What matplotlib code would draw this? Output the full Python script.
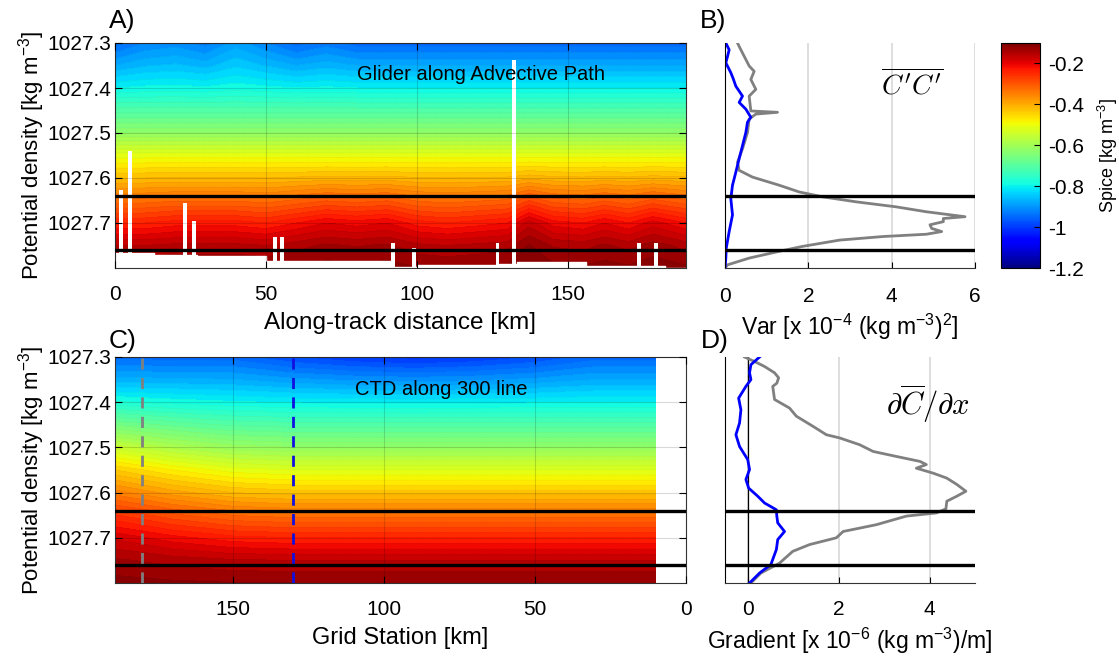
import numpy as np
import matplotlib
matplotlib.use("Agg")
import matplotlib.pyplot as plt
from matplotlib import cm, colors

plt.rcParams['font.family'] = ['Liberation Sans', 'DejaVu Sans']
plt.rcParams['mathtext.fontset'] = 'custom'
plt.rcParams['mathtext.rm'] = 'Liberation Sans'
plt.rcParams['mathtext.it'] = 'Liberation Sans:italic'

# ---- data ----
rho_levels = [1027.30, 1027.35, 1027.40, 1027.45, 1027.50, 1027.55,
              1027.60, 1027.65, 1027.70, 1027.75, 1027.80]
glider_profile = [-0.95, -0.88, -0.80, -0.71, -0.62, -0.51, -0.42, -0.33, -0.24, -0.16, -0.12]
ctd_profile = [-0.95, -0.88, -0.80, -0.71, -0.62, -0.52, -0.43, -0.33, -0.24, -0.16, -0.12]

# along-track anomalies (glider)
glider_x = [0, 10, 20, 30, 40, 50, 60, 70, 80, 90, 100, 110, 120, 130, 137, 145, 155, 162, 170, 178, 189]
glider_deep = [0, 0, 0.01, 0.01, 0.01, 0, 0.02, 0.04, 0.03, 0.04, 0.01, 0, 0.01, 0.02, 0.07, 0.03, 0.02, 0.04, 0.02, 0.05, 0.02]
glider_top = [0, 0.03, 0.04, 0.02, 0.06, 0.03, 0, 0.02, 0, 0, 0, 0, 0, 0, 0, 0, 0, 0, 0, 0, 0]
deep_weight = [0, 0, 0, 0, 0, 0, 0.2, 0.7, 1.0, 0.6, 0.2]
top_weight = [1.0, 0.6, 0.2, 0, 0, 0, 0, 0, 0, 0, 0]

# data gaps in glider section: position [km], top of gap [density]
gap_x = [2.0, 5.0, 23.3, 26.0, 53.0, 55.3, 92.0, 99.0, 126.6, 132.0, 173.5, 179.0]
gap_top = [1027.626, 1027.54, 1027.655, 1027.696, 1027.73, 1027.73,
           1027.744, 1027.755, 1027.745, 1027.337, 1027.745, 1027.745]
bottom_x = [0, 13, 27, 50, 92, 100, 127, 133, 156, 182, 189]
bottom_rho = [1027.767, 1027.77, 1027.774, 1027.785, 1027.797, 1027.793,
              1027.79, 1027.787, 1027.795, 1027.80, 1027.80]

# CTD section
ctd_x = [10, 30, 50, 70, 90, 110, 130, 150, 170, 189]
ctd_mid = [0, 0, 0, 0, 0, 0, 0, 0.01, 0.04, 0.08]
ctd_top = [0, 0, -0.03, -0.05, -0.06, -0.05, -0.03, 0, 0, 0]
mid_weight = [0, 0.1, 0.3, 0.6, 0.9, 1.0, 1.0, 0.9, 0.7, 0.3, 0.1]
ctd_top_weight = [1.0, 0.5, 0.1, 0, 0, 0, 0, 0, 0, 0, 0]
ctd_marks = [180, 130]

layer_bounds = [1027.64, 1027.76]

# B) variance profiles
var_rho_grey = [1027.300, 1027.315, 1027.351, 1027.363, 1027.381, 1027.403, 1027.418, 1027.451,
                1027.454, 1027.458, 1027.469, 1027.499, 1027.535, 1027.565, 1027.583, 1027.598,
                1027.616, 1027.631, 1027.642, 1027.653, 1027.664, 1027.675, 1027.686, 1027.690,
                1027.697, 1027.704, 1027.712, 1027.719, 1027.725, 1027.730, 1027.738, 1027.752,
                1027.763, 1027.778, 1027.793, 1027.800]
var_grey = [0.30, 0.38, 0.58, 0.70, 0.62, 0.74, 0.58, 0.62, 1.26, 0.74, 0.58, 0.54, 0.42, 0.30,
            0.34, 0.66, 1.30, 1.78, 2.35, 3.15, 4.10, 4.83, 5.76, 5.24, 5.24, 4.92, 4.96, 5.20,
            4.83, 3.80, 2.75, 1.86, 1.30, 0.58, 0.06, 0.00]
var_rho_blue = [1027.300, 1027.315, 1027.330, 1027.344, 1027.366, 1027.380, 1027.396, 1027.418,
                1027.432, 1027.447, 1027.465, 1027.476, 1027.499, 1027.528, 1027.557, 1027.587,
                1027.616, 1027.646, 1027.682, 1027.719, 1027.756, 1027.778, 1027.800]
var_blue = [0.02, 0.10, 0.06, 0.02, 0.14, 0.20, 0.26, 0.42, 0.34, 0.50, 0.62, 0.54, 0.50, 0.42,
            0.34, 0.26, 0.18, 0.14, 0.18, 0.10, 0.03, 0.02, 0.00]

# D) gradient profiles
grad_rho_grey = [1027.300, 1027.310, 1027.321, 1027.335, 1027.346, 1027.358, 1027.365, 1027.394,
                 1027.413, 1027.431, 1027.453, 1027.472, 1027.479, 1027.494, 1027.509, 1027.520,
                 1027.531, 1027.538, 1027.546, 1027.557, 1027.568, 1027.582, 1027.597, 1027.608,
                 1027.619, 1027.636, 1027.645, 1027.652, 1027.671, 1027.686, 1027.700, 1027.715,
                 1027.730, 1027.756, 1027.778, 1027.800]
grad_grey = [-0.07, 0.15, 0.37, 0.59, 0.68, 0.64, 0.55, 0.59, 0.92, 1.07, 1.43, 1.73, 2.02, 2.46,
             2.76, 3.27, 3.79, 3.93, 3.71, 4.08, 4.38, 4.60, 4.80, 4.60, 4.38, 4.36, 4.15, 3.49,
             2.83, 2.10, 1.95, 1.36, 0.99, 0.70, 0.29, 0.07]
grad_rho_blue = [1027.300, 1027.317, 1027.335, 1027.350, 1027.365, 1027.391, 1027.417, 1027.446,
                 1027.472, 1027.498, 1027.527, 1027.549, 1027.571, 1027.590, 1027.608, 1027.623,
                 1027.638, 1027.652, 1027.667, 1027.686, 1027.704, 1027.726, 1027.759, 1027.778,
                 1027.800]
grad_blue = [0.26, 0.07, 0.04, 0.07, -0.04, -0.20, -0.15, -0.18, -0.26, -0.18, 0.00, 0.04, -0.04,
             0.02, 0.22, 0.37, 0.63, 0.64, 0.66, 0.81, 0.66, 0.63, 0.51, 0.26, 0.04]

# ---- figure ----
W, H = 1119, 659
fig = plt.figure(figsize=(W / 100, H / 100), dpi=100)


def px_axes(l, t, r, b):
    return fig.add_axes([l / W, 1 - b / H, (r - l) / W, (b - t) / H])


axA = px_axes(115, 43, 686, 268)
axB = px_axes(725, 43, 975, 268)
axC = px_axes(115, 357, 686, 583)
axD = px_axes(725, 357, 975, 583)
cax = px_axes(1001, 43, 1040, 268)

cmap = cm.jet
norm = colors.Normalize(-1.2, -0.1)
levels = np.arange(-1.2, -0.09, 0.02)
FS = 15      # tick labels
LFS = 17     # x labels
rho_ticks = [1027.3, 1027.4, 1027.5, 1027.6, 1027.7]

# A) glider section
rho = np.array(rho_levels)
ZA = (np.add.outer(glider_profile, np.zeros(len(glider_x)))
      + np.outer(deep_weight, glider_deep) + np.outer(top_weight, glider_top))
axA.contourf(glider_x, rho, ZA, levels=levels, cmap=cmap, norm=norm, extend='both')
axA.contour(glider_x, rho, ZA, levels=levels, colors='k', linewidths=0.3, alpha=0.12)
axA.bar(gap_x, 1027.81 - np.array(gap_top), bottom=gap_top, width=1.3,
        color='white', zorder=2)
axA.fill_between(bottom_x, bottom_rho, 1027.81, step='post', color='white', zorder=2)
axA.text(121, 1027.37, 'Glider along Advective Path', ha='center', va='center', fontsize=14.5)
axA.set_xlim(0, 189)
axA.set_xlabel('Along-track distance [km]', fontsize=LFS + 0.5, labelpad=6)
axA.set_xticks([0, 50, 100, 150])

# C) CTD section
ZC = (np.add.outer(ctd_profile, np.zeros(len(ctd_x)))
      + np.outer(mid_weight, ctd_mid) + np.outer(ctd_top_weight, ctd_top))
axC.contourf(ctd_x, rho, ZC, levels=levels, cmap=cmap, norm=norm, extend='both')
axC.contour(ctd_x, rho, ZC, levels=levels, colors='k', linewidths=0.3, alpha=0.08)
axC.axvline(ctd_marks[0], color='grey', ls=(0, (4, 3)), lw=2, zorder=3)
axC.axvline(ctd_marks[1], color='#1010e0', ls=(0, (4, 3)), lw=2, zorder=3)
axC.text(81, 1027.372, 'CTD along 300 line', ha='center', va='center', fontsize=14.5)
axC.set_xlim(189, 0)
axC.set_xticks([150, 100, 50, 0])
axC.set_xlabel('Grid Station [km]', fontsize=LFS, labelpad=6)

for ax in (axA, axC):
    ax.set_ylim(1027.8, 1027.3)
    ax.set_yticks(rho_ticks)
    ax.set_yticklabels([f'{t:.1f}' for t in rho_ticks])
    ax.set_ylabel('Potential density [kg m$^{-3}$]', fontsize=16, labelpad=0)
    ax.tick_params(direction='in', top=True, right=True, labelsize=FS, length=5)
    ax.tick_params(axis='x', pad=12)
    ax.tick_params(axis='y', pad=3)
    ax.grid(True, color='k', alpha=0.15, lw=0.8)
    ax.set_axisbelow(False)
    for y in layer_bounds:
        ax.axhline(y, color='k', lw=2.4, zorder=4)
    for s in ax.spines.values():
        s.set_color('#333333')

# B) variance
axB.plot(var_grey, var_rho_grey, color='grey', lw=2)
axB.plot(var_blue, var_rho_blue, color='#0000ff', lw=2)
axB.set_xlim(0, 6)
axB.set_xticks([0, 2, 4, 6])
axB.set_xlabel('Var [x 10$^{-4}$ (kg m$^{-3}$)$^2$]', fontsize=LFS - 0.5, labelpad=4)
axB.text(4.5, 1027.393, r"$\overline{C'C'}$", math_fontfamily='cm', fontsize=20,
         ha='center', va='center')

# D) gradient
axD.plot(grad_grey, grad_rho_grey, color='grey', lw=2)
axD.plot(grad_blue, grad_rho_blue, color='#0000ff', lw=2)
axD.axvline(0, color='k', lw=0.9, zorder=1)
axD.set_xlim(-0.5, 5)
axD.set_xticks([0, 2, 4])
axD.set_xlabel('Gradient [x 10$^{-6}$ (kg m$^{-3}$)/m]', fontsize=LFS - 0.5, labelpad=5)
axD.text(3.97, 1027.404, r"$\partial\overline{C}/\partial x$", math_fontfamily='cm',
         fontsize=22, ha='center', va='center')

for ax in (axB, axD):
    ax.set_ylim(1027.8, 1027.3)
    ax.set_yticks([])
    for s in ('top', 'right'):
        ax.spines[s].set_visible(False)
    ax.spines['left'].set_color('k')
    ax.spines['bottom'].set_color('#333333')
    ax.grid(True, axis='x', color='#d8d8d8', lw=1.2)
    ax.set_axisbelow(True)
    ax.tick_params(direction='in', labelsize=FS, length=4)
    for y in layer_bounds:
        ax.axhline(y, color='k', lw=2.4, zorder=4)
axB.tick_params(axis='x', pad=14)
axD.tick_params(axis='x', pad=12)

# colorbar
cb = fig.colorbar(cm.ScalarMappable(norm=norm, cmap=cmap), cax=cax)
cb.set_ticks([-1.2, -1.0, -0.8, -0.6, -0.4, -0.2])
cb.set_ticklabels(['-1.2', '-1', '-0.8', '-0.6', '-0.4', '-0.2'])
cb.ax.tick_params(direction='in', labelsize=FS, length=4, pad=6)
cb.set_label('Spice [kg m$^{-3}$]', fontsize=13, labelpad=8)

# panel letters
for lbl, (px, py) in zip(['A)', 'B)', 'C)', 'D)'],
                         [(109, 21), (700, 21), (109, 341), (701, 341)]):
    fig.text(px / W, 1 - py / H, lbl, fontsize=19, va='center', ha='left')

fig.savefig('out.png', dpi=100)
